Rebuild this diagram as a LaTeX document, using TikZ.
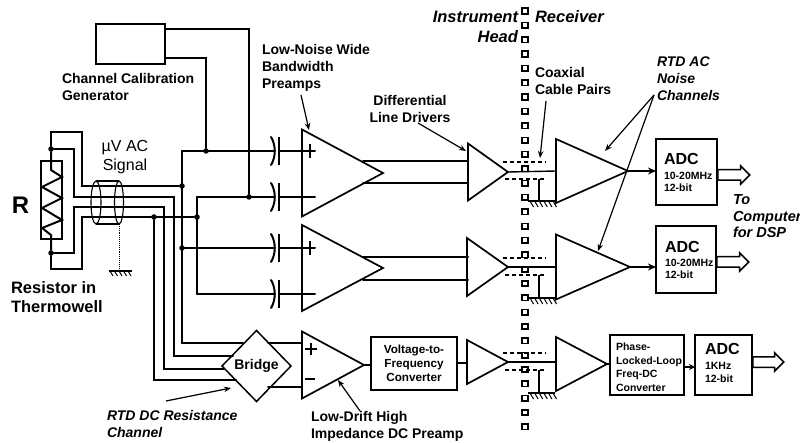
\documentclass[tikz,border=0pt]{standalone}
\usepackage{fontspec}
\setmainfont{Liberation Sans}
\usetikzlibrary{shapes.geometric,shapes.arrows,arrows.meta,calc}
\tikzset{
  wire/.style={line width=2pt,line cap=round,line join=miter},
  thinw/.style={line width=1.3pt},
  ptr/.style={line width=1.2pt,-{Stealth[length=7pt,width=5.5pt]}},
  sig/.style={line width=2.2pt,-{Stealth[length=8pt,width=7pt]}},
  amp/.style={draw,isosceles triangle,isosceles triangle stretches,line width=1.7pt,inner sep=0pt,outer sep=0pt,anchor=apex},
  blk/.style={draw,rectangle,line width=1.7pt,inner sep=0pt,outer sep=0pt,anchor=north west},
  jdot/.style={circle,fill=black,inner sep=0pt,minimum size=5.5pt},
  sq/.style={draw,rectangle,line width=1.6pt,minimum size=5.5pt,inner sep=0pt,fill=white},
  outarrow/.style={draw,single arrow,line width=1.5pt,minimum height=32pt,minimum width=18pt,single arrow head extend=4pt,inner sep=4.5pt,anchor=west},
  lbl/.style={inner sep=0pt,outer sep=0pt,anchor=base west,align=left,font=\bfseries\fontsize{14}{17}\selectfont},
  lbli/.style={inner sep=0pt,outer sep=0pt,anchor=base west,align=left,font=\bfseries\itshape\fontsize{14}{17}\selectfont},
  coaxdash/.style={line width=1.1pt,dash pattern=on 4pt off 3pt},
  shieldl/.style={line width=1.1pt}
}
\begin{document}
\begin{tikzpicture}[x=1pt,y=-1pt]
\useasboundingbox (0,0) rectangle (800,443);
% isolator column
\foreach \i in {0,...,29}{\node[sq,name=iso\i] at (525,{11+14.34*\i}) {};}
% junctions
\node[jdot] (jr1) at (51,149) {};
\node[jdot] (jr2) at (51,253) {};
\node[jdot] (ja) at (182,186) {};
\node[jdot] (jd) at (197,217) {};
\node[jdot] (jdc) at (154,217) {};
\node[jdot] (jcal) at (206,151) {};
\node[jdot] (jb2) at (249,197) {};
\node[jdot] (ja2) at (182,248) {};
% calibration generator
\node[blk,minimum width=69pt,minimum height=40pt] (cal) at (96,24) {};
\coordinate (calu) at (165,29);
\coordinate (call) at (165,58);
\draw[wire] (calu) -| (jb2);
\draw[wire] (call) -| (jcal);
% resistor
\node[blk,minimum width=21pt,minimum height=78pt] (res) at (41,161) {};
\draw[wire] (jr1) -- (51,170) -- (62,177) -- (42,187) -- (62,198) -- (42,208) -- (62,220) -- (42,228) -- (51,235) -- (jr2);
% four-wire leads
\coordinate (la) at (82,132);
\coordinate (ld) at (82,269);
\draw[wire] (jr1) |- (la) -- (82,186) -- (ja);
\draw[wire] (jr2) |- (ld) -- (82,217) -- (jd);
\coordinate (bl) at (74,197);
\coordinate (cl) at (74,207);
% bridge
\node[draw,diamond,line width=1.5pt,inner sep=0pt,outer sep=0pt,minimum width=69pt,minimum height=71pt,font=\bfseries\fontsize{14}{17}\selectfont] (bridge) at (256.5,366) {Bridge};
\draw[wire] (jr1) -| (bl) -- (174,197) -- (174,356) -- (233,356);
\draw[wire] (jr2) -| (cl) -- (164,207) -- (164,369) -- (224,369);
\draw[wire] (jdc) -- (154,380) -- (236,380);
% buses
\coordinate (bus1) at (182,151);
\coordinate (bus2) at (197,197);
\draw[wire] (bus1) -- (182,343) -- (243,343);
\draw[wire] (bus2) -- (197,294);
% capacitors and amp inputs
\foreach \n/\y/\s/\xs in {c1/151/bus1/182, c2/197/bus2/197, c3/248/ja2/182, c4/294/bus2/197}{
  \coordinate (\n) at (275,\y);
  \draw[wire] (\xs,\y) -- (\n);
  \draw[wire] (271,\y-14) .. controls (276,\y-6) and (276,\y+6) .. (271,\y+14);
  \draw[line width=2.2pt] (279,\y-14) -- (279,\y+14);
  \draw[wire] (279,\y) -- (315,\y);
}
\draw[line width=2pt] (310,144) -- (310,158);
\draw[line width=2pt] (310,241) -- (310,255);
% amps
\node[amp,minimum height=81pt,minimum width=87pt] (a1) at (383,173) {};
\node[amp,minimum height=81pt,minimum width=86pt] (a2) at (383,268) {};
\node[amp,minimum height=62pt,minimum width=67pt] (a3) at (364,365) {};
\node[amp,minimum height=40pt,minimum width=57pt] (d1) at (508,172) {};
\node[amp,minimum height=41pt,minimum width=58pt] (d2) at (508,267) {};
\node[amp,minimum height=41pt,minimum width=44pt] (d3) at (508,362) {};
\node[amp,minimum height=72pt,minimum width=64pt] (r1) at (628,171) {};
\node[amp,minimum height=74pt,minimum width=65pt] (r2) at (630,267) {};
\node[amp,minimum height=51pt,minimum width=54pt] (r3) at (607,364) {};
% plus minus of DC preamp
\draw[line width=2pt] (305,349) -- (317,349) (311,343) -- (311,355);
\draw[line width=2pt] (305,379) -- (315,379);
% bridge to preamp
\coordinate (dcp) at (302,343);
\coordinate (dcm) at (302,387);
\draw[wire] (268,343) -- (dcp);
\draw[wire] (268,387) -- (dcm);
% amp to driver pairs
\foreach \f/\yu/\yl in {1/161/183,2/257/280}{
  \draw[wire] (363,\yu) -- (468,\yu);
  \draw[wire] (363,\yl) -- (468,\yl);
}
% V-to-F
\node[blk,minimum width=86pt,minimum height=53pt,align=center,font=\bfseries\fontsize{11.7}{14}\selectfont] (vtf) at (371,337) {Voltage-to-\\Frequency\\Converter};
\draw[wire] (a3.apex) -- (vtf.west |- a3.apex);
\draw[wire] (457,363) -- (467,363);
% coax
\foreach \d/\r/\y/\yg in {d1/r1/171/201,d2/r2/267/298,d3/r3/362/393}{
  \draw[line width=1.4pt] (\d.apex) -- (556,\y);
  \draw[coaxdash] (503,\y-9) -- (546,\y-9);
  \draw[coaxdash] (505,\y+8) -- (546,\y+8);
  \coordinate (g\d) at (539,\yg);
  \draw[thinw] (539,\y+8) -- (g\d);
  \draw[line width=1.6pt] (528,\yg) -- (555,\yg);
  \foreach \k in {0,1,2,3,4,5}{\draw[line width=1pt] (530+4.6*\k,\yg) -- ++(3.5,6);}
}
% shielded cable
\draw[shieldl] (96,202.5) ellipse [x radius=5pt,y radius=21.5pt];
\draw[shieldl] (119,202.5) ellipse [x radius=4.5pt,y radius=21.5pt];
\draw[shieldl] (96,181) -- (119,181);
\draw[shieldl] (96,224) -- (119,224);
\coordinate (sh) at (119,224);
\coordinate (gs) at (119,271);
\draw[line width=.9pt,densely dotted] (sh) -- (gs);
\draw[line width=1.4pt] (109,271) -- (132,271);
\foreach \k in {0,1,2,3,4}{\draw[line width=1pt] (110+4.5*\k,271) -- ++(3,5);}
% ADCs
\node[blk,minimum width=61pt,minimum height=66pt] (adc1) at (656,139) {};
\node[blk,minimum width=60pt,minimum height=67pt] (adc2) at (656,226) {};
\node[blk,minimum width=74pt,minimum height=60pt] (pll) at (610,335) {};
\node[blk,minimum width=57pt,minimum height=60pt] (adc3) at (695,335) {};
\draw[sig] (r1.apex) -- (adc1.west |- r1.apex);
\draw[sig] (r2.apex) -- (adc2.west |- r2.apex);
\draw[wire] (r3.apex) -- (pll.west |- r3.apex);
\draw[line width=1.9pt,-{Stealth[length=6pt,width=6pt]}] (684,367) -- (695,367);
\node[outarrow] (o1) at (717,175) {};
\node[outarrow] (o2) at (716,262) {};
\node[outarrow,minimum height=31pt] (o3) at (752,362) {};
% box texts
\node[lbl,font=\bfseries\fontsize{16}{19}\selectfont] (t1a) at (664,165) {ADC};
\node[lbl,font=\bfseries\fontsize{10.5}{12}\selectfont] (t1b) at (664,192) {10-20MHz\\12-bit};
\node[lbl,font=\bfseries\fontsize{16}{19}\selectfont] (t2a) at (665,253) {ADC};
\node[lbl,font=\bfseries\fontsize{10.5}{12}\selectfont] (t2b) at (665,279) {10-20MHz\\12-bit};
\node[lbl,font=\bfseries\fontsize{16}{19}\selectfont] (t3a) at (705,355) {ADC};
\node[lbl,font=\bfseries\fontsize{10.5}{13}\selectfont] (t3b) at (705,382) {1KHz\\12-bit};
\node[lbl,font=\bfseries\fontsize{10.5}{13.4}\selectfont] (t4) at (616,391) {Phase-\\Locked-Loop\\Freq-DC\\Converter};
% labels
\node[lbl] (tcal) at (62,101) {Channel Calibration\\Generator};
\node[lbl,font=\bfseries\fontsize{24}{26}\selectfont] (tr) at (12,214) {R};
\node[lbl,align=center,anchor=base,font=\fontsize{16}{19}\selectfont] (tuv) at (125,171) {µV AC\\Signal};
\node[lbl,font=\bfseries\fontsize{16.5}{20}\selectfont] (tres) at (11,313) {Resistor in\\Thermowell};
\node[lbl] (tln) at (262,89) {Low-Noise Wide\\Bandwidth\\Preamps};
\node[lbl,align=center,anchor=base] (tdl) at (410,123) {Differential\\Line Drivers};
\node[lbli,align=right,anchor=base east,font=\bfseries\itshape\fontsize{16.5}{20}\selectfont] (tih) at (518,43) {Instrument\\Head};
\node[lbli,font=\bfseries\itshape\fontsize{16.5}{20}\selectfont] (trc) at (535,23) {Receiver};
\node[lbl] (tco) at (535,95) {Coaxial\\Cable Pairs};
\node[lbli] (tac) at (657,101) {RTD AC\\Noise\\Channels};
\node[lbli,font=\bfseries\itshape\fontsize{14.5}{16.5}\selectfont] (tto) at (733,238) {To\\Computer\\for DSP};
\node[lbli] (tdc) at (107,437) {RTD DC Resistance\\Channel};
\node[lbl] (tld) at (311,438) {Low-Drift High\\Impedance DC Preamp};
% pointers
\coordinate (pln) at (301,95);
\draw[ptr] (pln) -- (309,130);
\coordinate (pdl) at (418,123);
\draw[ptr] (pdl) -- (466,151);
\coordinate (pco) at (546,101);
\draw[ptr] (pco) -- (540,158);
\coordinate (pac) at (654,95);
\draw[ptr] (pac) -- (605,151);
\draw[ptr] (pac) -- (598,251);
\coordinate (pdc) at (166,401);
\draw[ptr] (pdc) -- (231,388);
\coordinate (pdr) at (360,411);
\draw[ptr] (pdr) -- (338,380);
\end{tikzpicture}
\end{document}
